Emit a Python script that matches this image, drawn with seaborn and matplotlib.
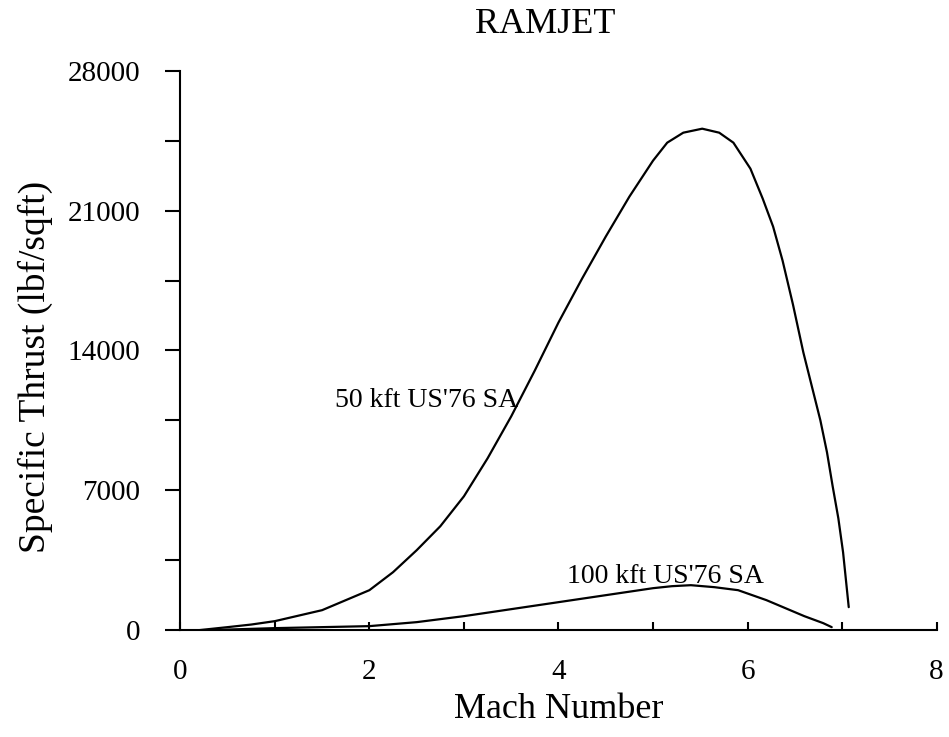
import matplotlib
matplotlib.use("Agg")
import matplotlib.pyplot as plt
import seaborn as sns
import pandas as pd

# 50 kft US'76 SA curve
mach_50 = [0.2, 0.5, 0.75, 1.0, 1.5, 2.0, 2.25, 2.5, 2.75, 3.0, 3.25, 3.5, 3.75, 4.0, 4.25,
           4.5, 4.75, 5.0, 5.15, 5.32, 5.52, 5.7, 5.85, 6.03, 6.16, 6.27, 6.37, 6.48, 6.59,
           6.68, 6.77, 6.84, 6.9, 6.96, 7.01, 7.07]
thrust_50 = [0, 150, 280, 450, 1000, 2000, 2900, 4000, 5200, 6700, 8600, 10700, 13000, 15400, 17600,
             19700, 21700, 23500, 24400, 24900, 25100, 24900, 24400, 23100, 21600, 20200, 18500, 16300, 13900,
             12200, 10500, 8900, 7200, 5600, 3900, 1150]

# 100 kft US'76 SA curve
mach_100 = [0.3, 1.0, 2.0, 2.5, 3.0, 3.5, 4.0, 4.5, 5.0, 5.2, 5.4, 5.65, 5.9, 6.2, 6.4, 6.6, 6.8, 6.89]
thrust_100 = [0, 100, 200, 400, 700, 1050, 1400, 1750, 2100, 2200, 2250, 2150, 2000, 1500, 1100, 700, 350, 150]

x_major = [0, 2, 4, 6, 8]
x_minor = [1, 3, 5, 7]
y_major = [0, 7000, 14000, 21000, 28000]
y_minor = [3500, 10500, 17500, 24500]

title = "RAMJET"
xlabel = "Mach Number"
ylabel = "Specific Thrust (lbf/sqft)"
label_50 = "50 kft US'76 SA"
label_100 = "100 kft US'76 SA"

sns.set_theme(style="ticks")
plt.rcParams['font.family'] = ['Liberation Serif', 'DejaVu Serif']

df50 = pd.DataFrame({"Mach": mach_50, "Thrust": thrust_50})
df100 = pd.DataFrame({"Mach": mach_100, "Thrust": thrust_100})

fig = plt.figure(figsize=(9.49, 7.37), dpi=100)
ax = fig.add_axes([0.19, 0.145, 0.797, 0.759])

sns.lineplot(data=df50, x="Mach", y="Thrust", ax=ax, color="black", lw=1.6, sort=False)
sns.lineplot(data=df100, x="Mach", y="Thrust", ax=ax, color="black", lw=1.6, sort=False)

ax.set_xlim(0, 8)
ax.set_ylim(0, 28000)
ax.set_xticks(x_major)
ax.set_xticks(x_minor, minor=True)
ax.set_yticks(y_major)
ax.set_yticks(y_minor, minor=True)
ax.set_xticklabels([str(v) for v in x_major])
ax.set_yticklabels([str(v) for v in y_major])

ax.tick_params(axis='x', which='both', direction='in', length=6, width=1.5,
               labelsize=21, pad=21, colors='black')
ax.tick_params(axis='y', which='both', direction='out', length=11, width=1.5,
               labelsize=21, pad=18, colors='black')

for s in ['top', 'right']:
    ax.spines[s].set_visible(False)
for s in ['left', 'bottom']:
    ax.spines[s].set_linewidth(1.5)
    ax.spines[s].set_color('black')

ax.set_xlabel(xlabel, fontsize=26, color='black')
ax.set_ylabel(ylabel, fontsize=27, color='black')
ax.xaxis.set_label_coords(0.5, -0.113)
ax.yaxis.set_label_coords(-0.168, 0.47)
ax.set_title(title, fontsize=26, pad=27, color='black', x=0.482)

ax.text(1.64, 11170, label_50, fontsize=20, color='black', ha='left', va='baseline')
ax.text(4.09, 2350, label_100, fontsize=20, color='black', ha='left', va='baseline')

fig.savefig("out.png", dpi=100)
